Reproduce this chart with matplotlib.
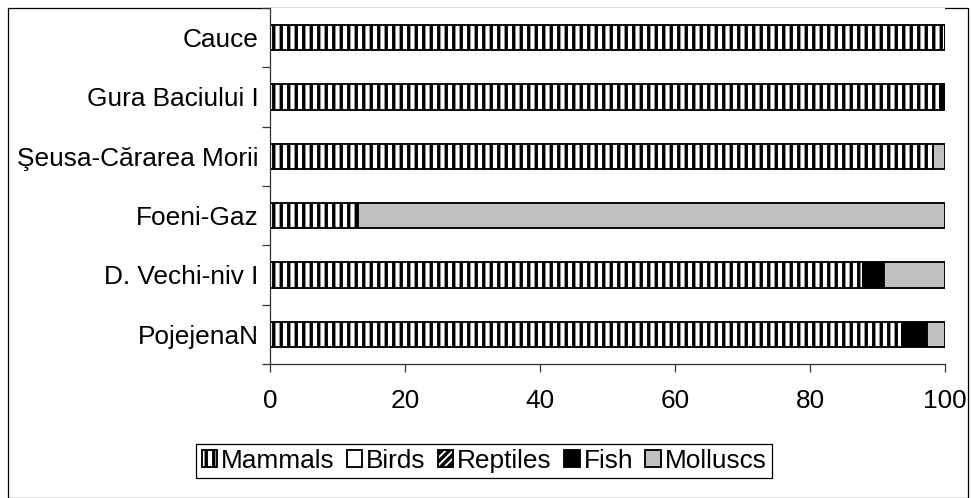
import matplotlib
matplotlib.use("Agg")
import matplotlib.pyplot as plt
from matplotlib.patches import Rectangle
import numpy as np

plt.rcParams['font.family'] = ['Liberation Sans', 'DejaVu Sans']
plt.rcParams['hatch.linewidth'] = 2.7

sites = ["PojejenaN", "D. Vechi-niv I", "Foeni-Gaz", "Şeusa-Cărarea Morii",
         "Gura Baciului I", "Cauce"]
mammals = [93.7, 87.8, 13.0, 98.2, 99.2, 100.0]
birds = [0, 0, 0, 0, 0, 0]
reptiles = [0, 0, 0, 0, 0, 0]
fish = [3.7, 3.1, 0, 0, 0.8, 0]
molluscs = [2.6, 9.1, 87.0, 1.8, 0, 0]
xticks = [0, 20, 40, 60, 80, 100]

series = [
    ("Mammals", mammals, dict(facecolor="white", hatch="||")),
    ("Birds", birds, dict(facecolor="white")),
    ("Reptiles", reptiles, dict(facecolor="white", hatch="////")),
    ("Fish", fish, dict(facecolor="black")),
    ("Molluscs", molluscs, dict(facecolor="#c0c0c0")),
]

FS = 21
DPI = 90
fig = plt.figure(figsize=(971 / DPI, 498 / DPI), dpi=DPI)
ax = fig.add_axes([270 / 971, 1 - 364 / 498, 675 / 971, 356 / 498])

y = np.arange(len(sites))
left = np.zeros(len(sites))
handles = []
for name, vals, style in series:
    vals = np.array(vals, dtype=float)
    bars = ax.barh(y, vals, left=left, height=0.43, edgecolor="black",
                   linewidth=1.5, label=name, **style)
    handles.append(bars)
    left += vals

ax.set_xlim(0, 100)
ax.set_ylim(-0.5, len(sites) - 0.5)
ax.set_xticks(xticks)
ax.set_xticklabels([str(t) for t in xticks], fontsize=FS)
ax.set_yticks(y)
ax.set_yticklabels(sites, fontsize=FS)
ax.set_yticks(np.arange(-0.5, len(sites), 1.0), minor=True)
ax.tick_params(axis="y", which="major", length=0, pad=9)
ax.tick_params(axis="y", which="minor", length=6.4, width=1, color="#333333")
ax.tick_params(axis="x", which="major", length=6.4, width=1, color="#333333",
               pad=14)
for s in ["top", "right"]:
    ax.spines[s].set_visible(False)
for s in ["left", "bottom"]:
    ax.spines[s].set_color("#333333")
    ax.spines[s].set_linewidth(1)

leg = fig.legend(handles=handles, labels=[s[0] for s in series],
                 loc="center", bbox_to_anchor=(484 / 971, 1 - 461 / 498),
                 ncol=5, fontsize=FS, frameon=True, fancybox=False,
                 edgecolor="black", framealpha=1, handlelength=0.6,
                 handleheight=0.6, handletextpad=0.15, columnspacing=0.45,
                 borderpad=0.2, borderaxespad=0)
leg.get_frame().set_linewidth(1)

fig.patches.append(Rectangle((8 / 971, 0), 960 / 971, 1 - 8 / 498,
                             transform=fig.transFigure, fill=False,
                             edgecolor="black", linewidth=1, zorder=-1))

fig.savefig("out.png", dpi=DPI)
